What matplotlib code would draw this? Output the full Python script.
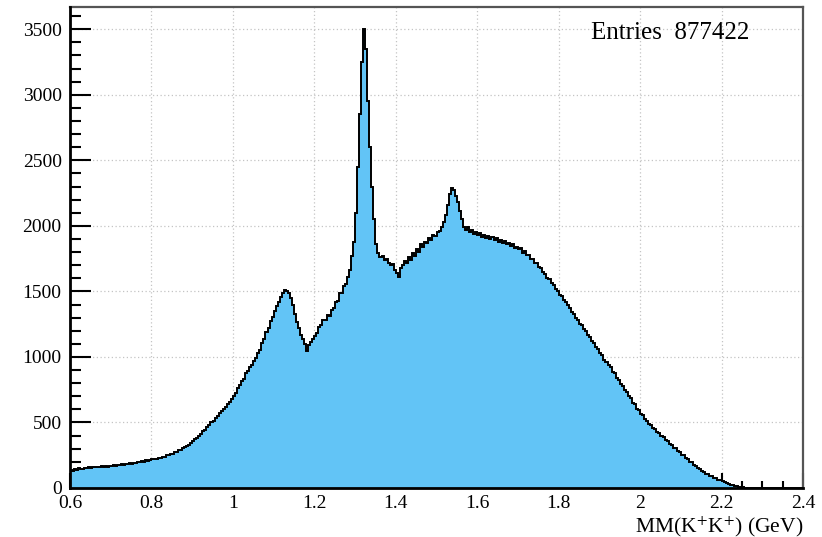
import numpy as np
import matplotlib
matplotlib.use("Agg")
import matplotlib.pyplot as plt
from matplotlib.ticker import MultipleLocator

plt.rcParams["font.family"] = ["Liberation Serif", "DejaVu Serif"]
plt.rcParams["mathtext.fontset"] = "stix"

# Missing-mass histogram, 0.005 GeV bins from 0.6 to 2.4 GeV
x_min, x_max, bin_width = 0.6, 2.4, 0.005

counts_060 = [140, 132, 145, 138, 150, 144, 148, 155, 150, 158, 152, 160, 157, 163, 158, 166, 161, 168, 164, 170]
counts_070 = [168, 174, 171, 177, 174, 181, 178, 185, 182, 189, 186, 193, 190, 198, 195, 203, 200, 210, 205, 214]
counts_080 = [218, 225, 222, 232, 230, 240, 238, 250, 248, 262, 258, 274, 272, 288, 290, 305, 310, 322, 330, 345]
counts_090 = [355, 372, 382, 400, 410, 432, 445, 465, 478, 500, 515, 535, 548, 570, 585, 605, 620, 642, 655, 680]
counts_100 = [700, 725, 760, 785, 820, 835, 875, 890, 925, 940, 970, 990, 1030, 1055, 1105, 1135, 1190, 1220, 1275, 1305]
counts_110 = [1350, 1390, 1420, 1455, 1490, 1510, 1500, 1490, 1450, 1400, 1330, 1270, 1220, 1170, 1140, 1095, 1045, 1090, 1115, 1135]
counts_120 = [1160, 1185, 1230, 1245, 1285, 1280, 1320, 1315, 1360, 1370, 1420, 1430, 1485, 1490, 1540, 1555, 1610, 1665, 1770, 1880]
counts_130 = [2100, 2450, 2850, 3250, 3500, 3350, 2950, 2600, 2300, 2050, 1860, 1790, 1760, 1770, 1740, 1750, 1720, 1700, 1710, 1660]
counts_140 = [1640, 1610, 1680, 1700, 1730, 1720, 1760, 1740, 1790, 1770, 1820, 1800, 1860, 1840, 1880, 1870, 1910, 1895, 1930, 1925]
counts_150 = [1950, 1960, 1990, 2030, 2080, 2160, 2240, 2290, 2270, 2230, 2180, 2110, 2050, 1990, 1970, 1990, 1950, 1965, 1940, 1955]
counts_160 = [1930, 1945, 1915, 1930, 1905, 1925, 1900, 1915, 1890, 1910, 1880, 1895, 1870, 1885, 1860, 1870, 1850, 1860, 1835, 1840]
counts_170 = [1820, 1830, 1795, 1810, 1775, 1780, 1750, 1750, 1715, 1715, 1685, 1675, 1645, 1635, 1605, 1595, 1565, 1550, 1520, 1505]
counts_180 = [1475, 1465, 1435, 1420, 1395, 1375, 1345, 1325, 1300, 1285, 1255, 1240, 1210, 1195, 1165, 1150, 1120, 1105, 1075, 1060]
counts_190 = [1030, 1015, 980, 965, 935, 920, 885, 875, 840, 825, 795, 780, 745, 730, 700, 685, 650, 640, 605, 595]
counts_200 = [565, 555, 525, 515, 490, 482, 455, 450, 425, 420, 395, 390, 365, 360, 335, 330, 305, 302, 280, 274]
counts_210 = [255, 248, 229, 221, 202, 195, 177, 170, 152, 146, 130, 124, 110, 105, 93, 89, 78, 75, 64, 61]
counts_220 = [52, 45, 38, 32, 26, 21, 16, 12, 9, 6, 4, 3, 2, 1, 1, 0, 0, 0, 0, 0]
counts_230 = [0] * 20

counts = np.array(counts_060 + counts_070 + counts_080 + counts_090 + counts_100 +
                  counts_110 + counts_120 + counts_130 + counts_140 + counts_150 +
                  counts_160 + counts_170 + counts_180 + counts_190 + counts_200 +
                  counts_210 + counts_220 + counts_230, dtype=float)
n_bins = int(round((x_max - x_min) / bin_width))
edges = np.linspace(x_min, x_max, n_bins + 1)

x_major = [0.6, 0.8, 1.0, 1.2, 1.4, 1.6, 1.8, 2.0, 2.2, 2.4]
x_labels = ["0.6", "0.8", "1", "1.2", "1.4", "1.6", "1.8", "2", "2.2", "2.4"]
y_major = [0, 500, 1000, 1500, 2000, 2500, 3000, 3500]

fill_color = "#62C4F6"

fig = plt.figure(figsize=(8.22, 5.37), dpi=100)
ax = fig.add_axes([70 / 822, 1 - 488 / 537, 733 / 822, 481 / 537])

ax.stairs(counts, edges, fill=True, color=fill_color, zorder=2)
ax.stairs(counts, edges, baseline=None, color="black", linewidth=1.4, zorder=3)

ax.set_xlim(x_min, x_max)
ax.set_ylim(0, 3670)

ax.set_xticks(x_major)
ax.set_xticklabels(x_labels)
ax.set_yticks(y_major)
ax.xaxis.set_minor_locator(MultipleLocator(0.05))
ax.yaxis.set_minor_locator(MultipleLocator(100))

ax.tick_params(axis="both", which="both", direction="in", width=1.5, colors="black",
               labelsize=14, top=False, right=False)
ax.tick_params(axis="x", which="major", length=11, pad=5)
ax.tick_params(axis="x", which="minor", length=5)
ax.tick_params(axis="y", which="major", length=15, pad=6)
ax.tick_params(axis="y", which="minor", length=8)

ax.grid(True, which="major", linestyle=(0, (1, 2)), color="#c4c4c4", linewidth=0.9, zorder=0)
ax.set_axisbelow(True)

for side in ("left", "bottom"):
    ax.spines[side].set_linewidth(2.0)
    ax.spines[side].set_color("black")
    ax.spines[side].set_zorder(4)
for side in ("top", "right"):
    ax.spines[side].set_linewidth(1.6)
    ax.spines[side].set_color("#555555")

ax.text(0.8186, 0.946, "Entries  877422", transform=ax.transAxes,
        ha="center", va="center", fontsize=18, color="black")

fig.text(803 / 822, 1 - 532 / 537, r"MM(K$^{+}$K$^{+}$) (GeV)",
         ha="right", va="baseline", fontsize=15.5)

fig.savefig("out.png", dpi=100)
